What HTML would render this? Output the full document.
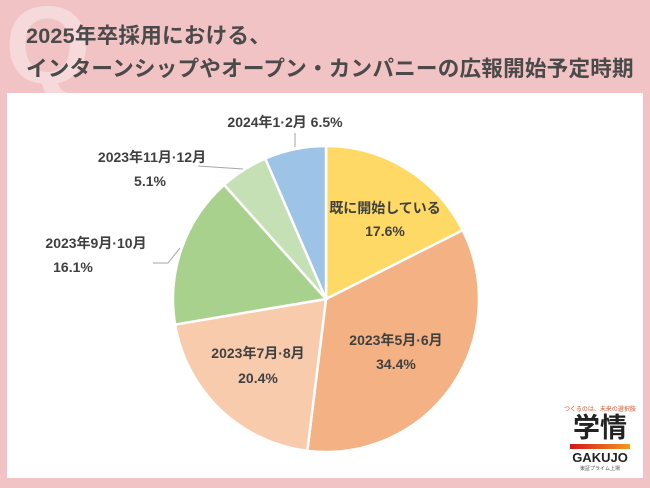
<!DOCTYPE html>
<html><head><meta charset="utf-8">
<style>
body{margin:0;width:650px;height:488px;background:#f2c3c4;overflow:hidden;font-family:"Liberation Sans","Noto Sans CJK JP",sans-serif;position:relative}
.title{position:absolute;left:26px;color:#4a4a4a;font-weight:bold;font-size:21.6px;letter-spacing:0.2px;white-space:nowrap}
.panel{position:absolute;left:7px;top:93px;width:636px;height:385px;background:#fff}
</style></head><body>
<div style="position:absolute;left:5px;top:-18px;font-size:110px;font-weight:bold;color:#f6d9da;font-family:'Liberation Sans',sans-serif">Q</div>
<div class="title" style="top:19px">2025年卒採用における、</div>
<div class="title" style="top:52px">インターンシップやオープン・カンパニーの広報開始予定時期</div>
<div class="panel"></div>
<svg id="chart" width="650" height="488" style="position:absolute;left:0;top:0"></svg>
<div style="position:absolute;left:560px;top:404px;width:80px;text-align:center;color:#222">
<div style="font-size:6px;color:#e0502a;white-space:nowrap">つくるのは、未来の選択肢</div>
<div style="font-size:27px;line-height:30px;font-weight:bold">学情</div>
<div style="height:5px;background:linear-gradient(90deg,#d4161b,#f39a1e);margin:1px 10px"></div>
<div style="font-size:13px;font-weight:bold;line-height:15px">GAKUJO</div>
<div style="font-size:5px;color:#555">東証プライム上場</div>
</div>
<script>
const labels=["既に開始している","2023年5月·6月","2023年7月·8月","2023年9月·10月","2023年11月·12月","2024年1·2月"];
const values=[17.6,34.4,20.4,16.1,5.1,6.5];
const colors=["#ffd966","#f4b183","#f8cbad","#a9d18e","#c5e0b4","#9dc3e6"];
const svg=document.getElementById('chart');
const NS="http://www.w3.org/2000/svg";
const cx=326,cy=299,r=153;
const total=values.reduce((a,b)=>a+b,0);
function pt(a,rr){return [cx+rr*Math.sin(a),cy-rr*Math.cos(a)];}
let a0=0;
values.forEach((v,i)=>{
  const a1=a0+v/total*2*Math.PI;
  const p0=pt(a0,r),p1=pt(a1,r);
  const large=(a1-a0)>Math.PI?1:0;
  const p=document.createElementNS(NS,'path');
  p.setAttribute('d',`M${cx},${cy}L${p0[0]},${p0[1]}A${r},${r} 0 ${large} 1 ${p1[0]},${p1[1]}Z`);
  p.setAttribute('fill',colors[i]);p.setAttribute('stroke','#fff');p.setAttribute('stroke-width','2.5');
  
  
  svg.appendChild(p);
  a0=a1;
});
function txt(x,y,s,nm){const t=document.createElementNS(NS,'text');t.setAttribute('x',x);t.setAttribute('y',y);t.setAttribute('text-anchor','middle');t.setAttribute('font-size','14');t.setAttribute('font-weight','bold');t.setAttribute('fill','#404040');t.textContent=s;


svg.appendChild(t);}
function line(pts,nm){const l=document.createElementNS(NS,'polyline');l.setAttribute('points',pts);l.setAttribute('fill','none');l.setAttribute('stroke','#a6a6a6');l.setAttribute('stroke-width','1');


svg.appendChild(l);}
const pct=v=>v.toFixed(1)+'%';
txt(385,213,labels[0],'label-0');txt(385,236,pct(values[0]),'value-0');
txt(396,345,labels[1],'label-1');txt(396,369,pct(values[1]),'value-1');
txt(258,358,labels[2],'label-2');txt(258,383,pct(values[2]),'value-2');
txt(96,248,labels[3],'label-3');txt(73,272,pct(values[3]),'value-3');
txt(152,162,labels[4],'label-4');txt(150,186,pct(values[4]),'value-4');
txt(285,127,labels[5]+' '+pct(values[5]),'label-5');
line('153,263 168,263 180,248','leader-3');
line('198,166 243,169','leader-4');
line('295,133 295,147','leader-5');
</script>
</body></html>
